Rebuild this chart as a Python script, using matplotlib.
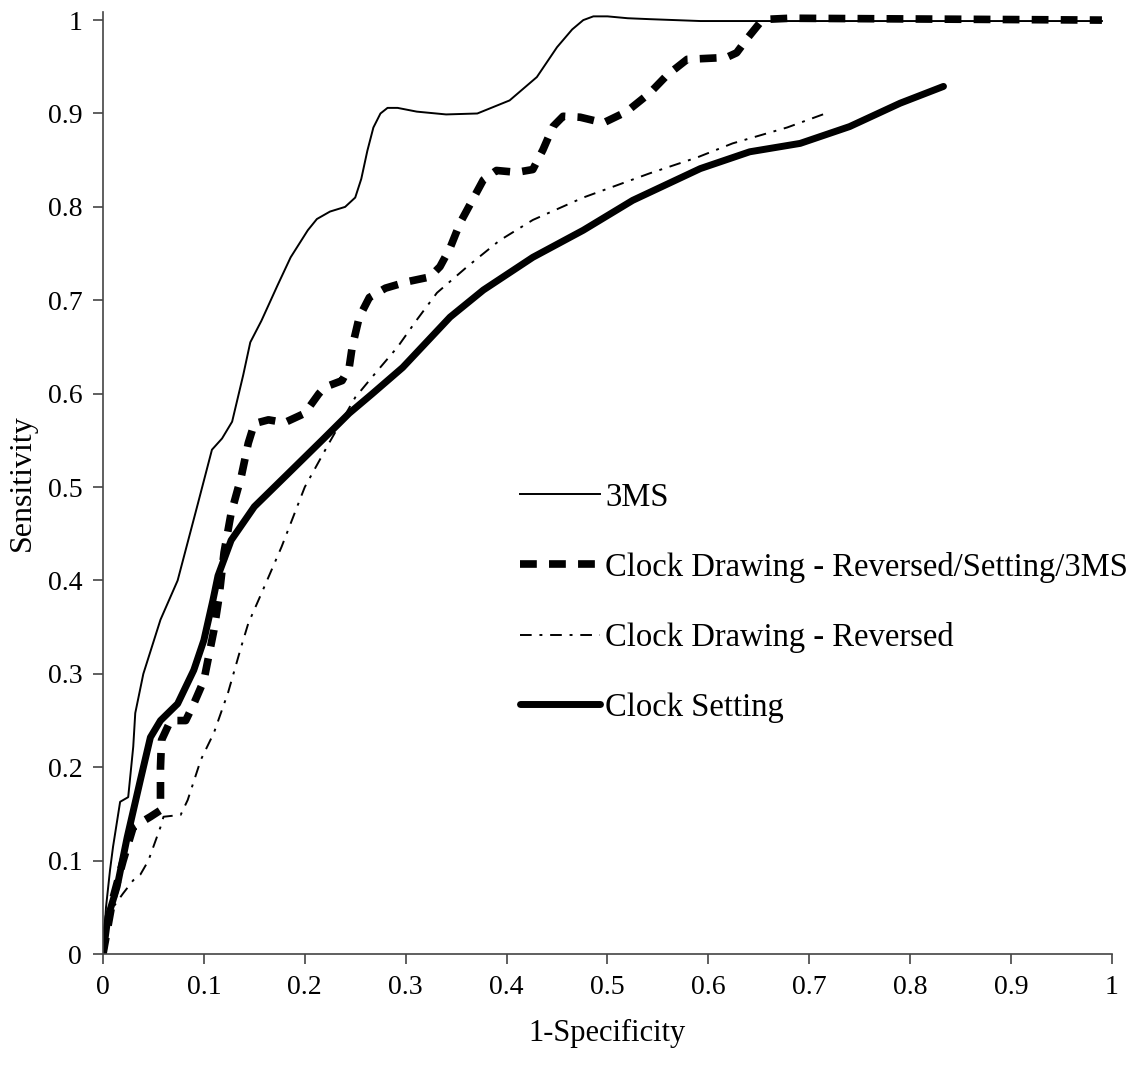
import numpy as np
import matplotlib
matplotlib.use("Agg")
import matplotlib.pyplot as plt

# ROC curves: 1-specificity (x) vs sensitivity (y)
x_3ms = [0, 0.003, 0.007, 0.010, 0.017, 0.025, 0.030, 0.032, 0.040, 0.057,
         0.074, 0.094, 0.108, 0.118, 0.128, 0.139, 0.146, 0.157, 0.173, 0.186,
         0.203, 0.212, 0.225, 0.240, 0.250, 0.256, 0.262, 0.268, 0.275, 0.282,
         0.292, 0.311, 0.340, 0.371, 0.403, 0.430, 0.450, 0.465, 0.476, 0.486,
         0.500, 0.520, 0.542, 0.592, 0.99]
y_3ms = [0, 0.050, 0.090, 0.115, 0.163, 0.168, 0.222, 0.258, 0.300, 0.358,
         0.400, 0.482, 0.540, 0.552, 0.570, 0.620, 0.655, 0.678, 0.716, 0.746,
         0.775, 0.787, 0.795, 0.800, 0.810, 0.830, 0.860, 0.885, 0.900, 0.906,
         0.906, 0.902, 0.899, 0.900, 0.914, 0.939, 0.971, 0.990, 1.000, 1.004,
         1.004, 1.002, 1.001, 0.999, 0.999]

x_combo = [0, 0.010, 0.020, 0.030, 0.047, 0.057, 0.057, 0.058, 0.067, 0.082,
           0.090, 0.100, 0.110, 0.115, 0.120, 0.127, 0.137, 0.144, 0.150, 0.164,
           0.180, 0.200, 0.214, 0.220, 0.237, 0.244, 0.247, 0.254, 0.264, 0.280,
           0.302, 0.324, 0.334, 0.344, 0.354, 0.366, 0.377, 0.390, 0.410, 0.426,
           0.436, 0.446, 0.456, 0.473, 0.496, 0.519, 0.542, 0.559, 0.579, 0.618,
           0.628, 0.639, 0.651, 0.661, 0.681, 0.99]
y_combo = [0, 0.060, 0.100, 0.136, 0.147, 0.154, 0.200, 0.229, 0.250, 0.250,
           0.268, 0.293, 0.347, 0.382, 0.430, 0.472, 0.511, 0.547, 0.568, 0.572,
           0.569, 0.579, 0.600, 0.607, 0.614, 0.628, 0.650, 0.682, 0.703, 0.713,
           0.720, 0.725, 0.736, 0.756, 0.783, 0.807, 0.829, 0.839, 0.837, 0.840,
           0.861, 0.886, 0.897, 0.896, 0.890, 0.902, 0.922, 0.941, 0.958, 0.960,
           0.965, 0.981, 0.997, 1.001, 1.002, 1.000]

x_rev = [0, 0.010, 0.020, 0.030, 0.037, 0.045, 0.057, 0.060, 0.077, 0.084,
         0.097, 0.110, 0.124, 0.137, 0.144, 0.157, 0.177, 0.200, 0.224, 0.250,
         0.270, 0.292, 0.311, 0.331, 0.361, 0.393, 0.426, 0.476, 0.542, 0.589,
         0.624, 0.678, 0.716]
y_rev = [0, 0.050, 0.065, 0.079, 0.085, 0.100, 0.136, 0.147, 0.149, 0.165,
         0.208, 0.237, 0.280, 0.329, 0.354, 0.386, 0.436, 0.500, 0.547, 0.596,
         0.622, 0.650, 0.679, 0.708, 0.736, 0.764, 0.786, 0.810, 0.836, 0.853,
         0.868, 0.885, 0.900]

x_set = [0, 0.005, 0.014, 0.024, 0.037, 0.047, 0.057, 0.074, 0.090, 0.100,
         0.109, 0.114, 0.127, 0.150, 0.184, 0.217, 0.244, 0.267, 0.297, 0.344,
         0.377, 0.426, 0.476, 0.525, 0.592, 0.641, 0.691, 0.740, 0.790, 0.833]
y_set = [0, 0.040, 0.072, 0.125, 0.186, 0.232, 0.250, 0.268, 0.304, 0.336,
         0.379, 0.405, 0.443, 0.479, 0.515, 0.550, 0.579, 0.600, 0.628, 0.682,
         0.711, 0.746, 0.775, 0.807, 0.841, 0.859, 0.868, 0.886, 0.911, 0.929]

ticks = np.round(np.arange(0, 1.01, 0.1), 1)
tick_labels = ["0", "0.1", "0.2", "0.3", "0.4", "0.5", "0.6", "0.7", "0.8", "0.9", "1"]

plt.rcParams['font.family'] = ['Liberation Serif', 'DejaVu Serif']

fig = plt.figure(figsize=(11.34, 10.68), dpi=100)
ax = fig.add_axes([0.0908, 0.1067, 0.8898, 0.882])

ax.plot(x_3ms, y_3ms, color='black', lw=1.4, solid_joinstyle='round',
        label='3MS')
ax.plot(x_combo, y_combo, color='black', lw=5.5, linestyle=(0, (2.2, 1.6)),
        dash_capstyle='butt', label='Clock Drawing - Reversed/Setting/3MS')
ax.plot(x_rev, y_rev, color='black', lw=1.4, linestyle=(0, (6, 4, 1.5, 4)),
        label='Clock Drawing - Reversed')
ax.plot(x_set, y_set, color='black', lw=5, solid_capstyle='round',
        solid_joinstyle='round', label='Clock Setting')

ax.set_xlim(0, 1)
ax.set_ylim(0, 1.0086)
ax.set_xticks(ticks)
ax.set_xticklabels(tick_labels)
ax.set_yticks(ticks)
ax.set_yticklabels(tick_labels)
ax.tick_params(labelsize=20, direction='out', length=7, width=1.2,
               color='#444444', pad=8)
for side in ['top', 'right']:
    ax.spines[side].set_visible(False)
for side in ['left', 'bottom']:
    ax.spines[side].set_color('#444444')
    ax.spines[side].set_linewidth(1.2)

ax.set_xlabel('1-Specificity', fontsize=22, labelpad=14)
ax.set_ylabel('Sensitivity', fontsize=23, labelpad=8)

leg = ax.legend(loc='center left', bbox_to_anchor=(0.4586, 0.436),
                bbox_transform=fig.transFigure, frameon=False, fontsize=23.5,
                handlelength=2.45, handletextpad=0.15, labelspacing=1.2,
                borderpad=0, borderaxespad=0)

fig.savefig('out.png', dpi=100)
